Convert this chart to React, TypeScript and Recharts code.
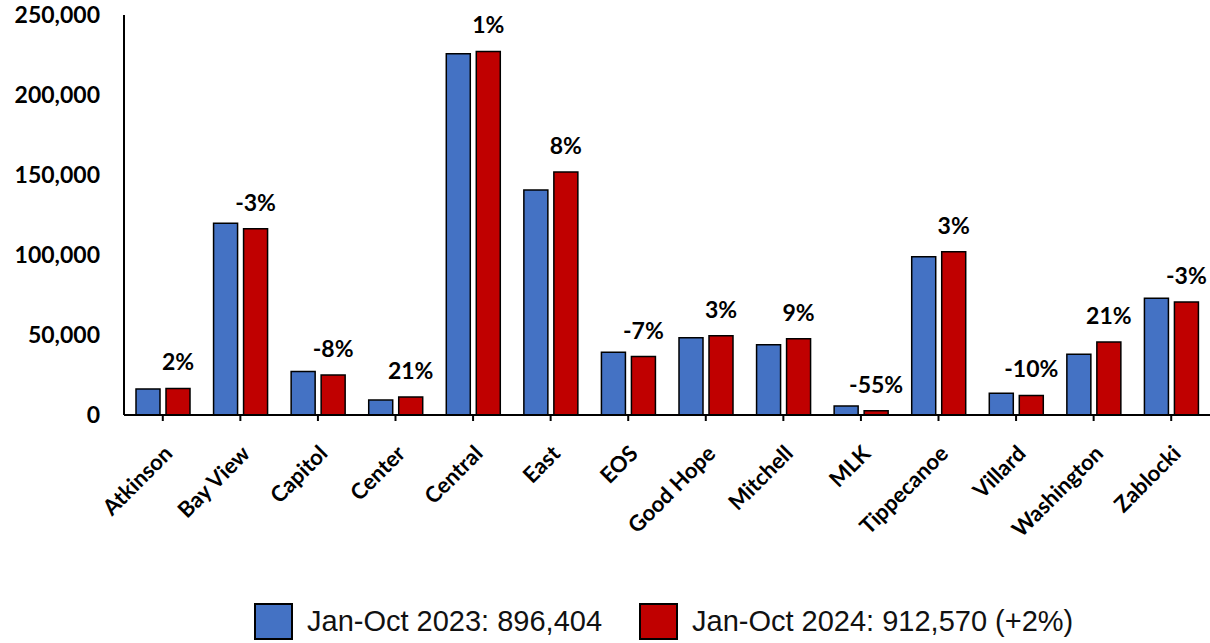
import React from "react";
import { BarChart, Bar, XAxis, YAxis, LabelList } from "recharts";

const categories = ["Atkinson", "Bay View", "Capitol", "Center", "Central", "East", "EOS", "Good Hope", "Mitchell", "MLK", "Tippecanoe", "Villard", "Washington", "Zablocki"];
const values2023 = [16300, 119800, 27200, 9300, 225800, 140600, 39200, 48300, 43900, 5600, 98900, 13600, 38000, 72900];
const values2024 = [16600, 116400, 25000, 11250, 227200, 151900, 36500, 49600, 47700, 2600, 102100, 12200, 45700, 70600];
const pctLabels = ["2%", "-3%", "-8%", "21%", "1%", "8%", "-7%", "3%", "9%", "-55%", "3%", "-10%", "21%", "-3%"];
const yTicks = [0, 50000, 100000, 150000, 200000, 250000];
const legendLabels = ["Jan-Oct 2023: 896,404", "Jan-Oct 2024: 912,570 (+2%)"];

const BLUE = "#4472C4";
const RED = "#C00000";
const FONT = "Lato, 'Open Sans', sans-serif";

const data = categories.map((c, i) => ({
  name: c,
  v2023: values2023[i],
  v2024: values2024[i],
  pct: pctLabels[i],
}));

const XTick = (props: any) => {
  const { x, y, payload } = props;
  return (
    <g transform={`translate(${x + 11},${y + 32})`}>
      <text
        transform="rotate(-45)"
        textAnchor="end"
        fontFamily={FONT}
        fontWeight={700}
        fontSize={22}
        fill="#000"
      >
        {payload.value}
      </text>
    </g>
  );
};

const PctLabel = (props: any) => {
  const { x, y, width, index } = props;
  return (
    <text
      x={x + width / 2}
      y={y - 18}
      textAnchor="middle"
      fontFamily={FONT}
      fontWeight={700}
      fontSize={23}
      fill="#000"
    >
      {pctLabels[index]}
    </text>
  );
};

const legendText: React.CSSProperties = {
  position: "absolute",
  top: 605,
  fontFamily: "'Liberation Sans', Arial, sans-serif",
  fontSize: 29,
  lineHeight: "32px",
  color: "#111",
  whiteSpace: "nowrap",
};

export default function App() {
  return (
    <div style={{ position: "absolute", left: 0, top: 0, width: 1210, height: 643, background: "#fff" }}>
      <BarChart
        width={1210}
        height={643}
        data={data}
        margin={{ top: 15, right: 0, bottom: 0, left: 0 }}
        barSize={24}
        barGap={6}
      >
        <XAxis
          dataKey="name"
          interval={0}
          height={228}
          axisLine={{ stroke: "#000", strokeWidth: 2 }}
          tickLine={{ stroke: "#000", strokeWidth: 2 }}
          tickSize={6}
          tick={<XTick />}
        />
        <YAxis
          width={124}
          domain={[0, 250000]}
          ticks={yTicks}
          interval={0}
          axisLine={{ stroke: "#000", strokeWidth: 2 }}
          tickLine={false}
          tickMargin={18}
          tickFormatter={(v: number) => v.toLocaleString("en-US")}
          tick={{ fontFamily: FONT, fontWeight: 700, fontSize: 23, fill: "#000" }}
        />
        <Bar dataKey="v2023" fill={BLUE} stroke="#000" strokeWidth={1.5} isAnimationActive={false} />
        <Bar dataKey="v2024" fill={RED} stroke="#000" strokeWidth={1.5} isAnimationActive={false}>
          <LabelList dataKey="pct" content={<PctLabel />} />
        </Bar>
      </BarChart>
      <div style={{ position: "absolute", left: 254, top: 603, width: 35, height: 33, background: BLUE, border: "2px solid #000" }} />
      <div style={{ ...legendText, left: 307 }}>{legendLabels[0]}</div>
      <div style={{ position: "absolute", left: 639, top: 603, width: 35, height: 33, background: RED, border: "2px solid #000" }} />
      <div style={{ ...legendText, left: 692 }}>{legendLabels[1]}</div>
    </div>
  );
}
